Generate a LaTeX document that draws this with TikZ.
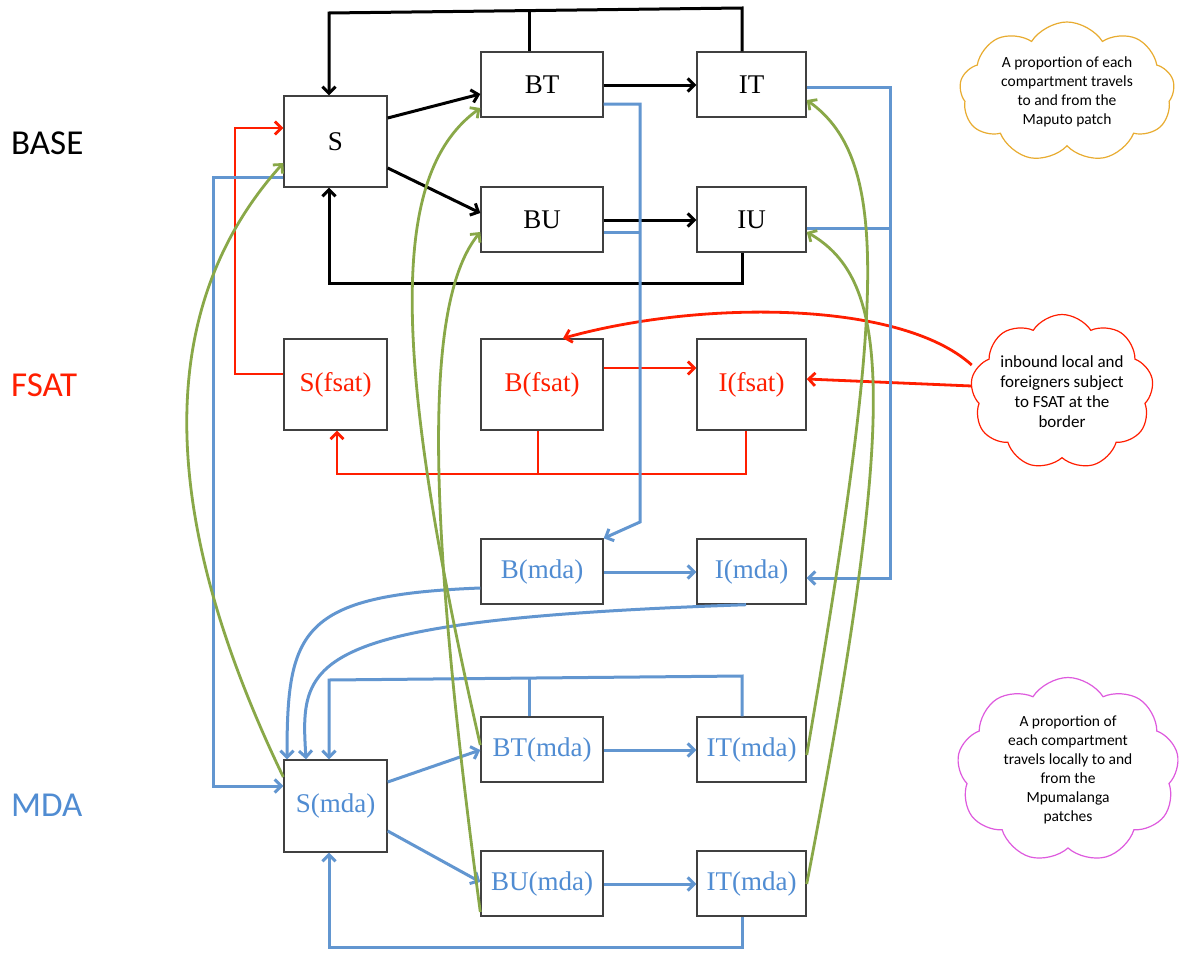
\documentclass[tikz,border=0pt]{standalone}
\usepackage{fontspec}
\setmainfont{Liberation Serif}
\newfontfamily\calfont{Carlito}
\usetikzlibrary{arrows.meta,shapes.symbols}
\definecolor{boxgray}{RGB}{64,64,64}
\definecolor{myred}{RGB}{255,30,0}
\definecolor{myblue}{RGB}{98,150,208}
\definecolor{mdablue}{RGB}{80,140,210}
\definecolor{mygreen}{RGB}{137,168,72}
\definecolor{orangec}{RGB}{232,172,48}
\definecolor{magc}{RGB}{222,90,222}
\tikzset{
  bx/.style={draw=boxgray,line width=1.4pt,inner sep=0pt,font=\fontsize{27}{30}\selectfont},
  sq/.style={bx,minimum width=103pt,minimum height=91pt},
  wd/.style={bx,minimum width=122pt,minimum height=65pt},
  nr/.style={bx,minimum width=109pt,minimum height=65pt},
  tip/.style={-{Straight Barb[length=6.5pt,width=13pt]}},
  blk/.style={black,line width=3pt,tip},
  blkline/.style={black,line width=3pt},
  rd/.style={myred,line width=2.8pt,tip},
  rdline/.style={myred,line width=2.8pt},
  bl/.style={myblue,line width=3pt,tip},
  blline/.style={myblue,line width=3pt},
  gr/.style={mygreen,line width=2.8pt,tip},
  cl/.style={cloud,cloud puffs=9,cloud puff arc=115,cloud ignores aspect,line width=1.2pt,fill=white,align=center,font=\calfont\fontsize{15.5}{19}\selectfont,inner sep=0pt},
  lab/.style={anchor=west,font=\calfont\fontsize{35}{40}\selectfont,inner sep=0pt}
}
\begin{document}
\begin{tikzpicture}[x=1pt,y=-1pt]
\useasboundingbox[fill=white] (0,0) rectangle (1180,953);
% labels
\node[lab] (lbase) at (11,143) {BASE};
\node[lab,text=myred] (lfsat) at (11,385) {FSAT};
\node[lab,text=mdablue] (lmda) at (11,805) {MDA};
% boxes
\node[sq] (S) at (335.5,141.5) {S};
\node[wd] (BT) at (542,84.5) {BT};
\node[nr] (IT) at (751.5,84.5) {IT};
\node[wd] (BU) at (542,219.5) {BU};
\node[nr] (IU) at (751.5,219.5) {IU};
\node[sq,text=myred] (Sf) at (335.5,384.5) {S(fsat)};
\node[bx,minimum width=122pt,minimum height=91pt,text=myred] (Bf) at (542,384.5) {B(fsat)};
\node[bx,minimum width=109pt,minimum height=91pt,text=myred] (If) at (751.5,384.5) {I(fsat)};
\node[wd,text=mdablue] (Bm) at (542,571.5) {B(mda)};
\node[nr,text=mdablue] (Im) at (751.5,571.5) {I(mda)};
\node[wd,text=mdablue] (BTm) at (542,749.5) {BT(mda)};
\node[nr,text=mdablue] (ITm) at (751.5,749.5) {IT(mda)};
\node[sq,minimum height=92pt,text=mdablue] (Sm) at (335.5,806) {S(mda)};
\node[wd,text=mdablue] (BUm) at (542,883.5) {BU(mda)};
\node[nr,text=mdablue] (IUm) at (751.5,883.5) {IT(mda)};
% clouds
\node[cl,draw=orangec,minimum width=215pt,minimum height=140pt] (c1) at (1067,92)
  {A proportion of each\\compartment travels\\to and from the\\Maputo patch};
\node[cl,draw=myred,minimum width=160pt,minimum height=155pt,font=\calfont\fontsize{17}{20}\selectfont] (c2) at (1062,392)
  {inbound local and\\foreigners subject\\to FSAT at the\\border};
\node[cl,draw=magc,minimum width=222pt,minimum height=185pt] (c3) at (1068,770)
  {A proportion of\\each compartment\\travels locally to and\\from the\\Mpumalanga\\patches};
% black
\draw[blk] (S.east |- 0,118) -- (BT.west |- 0,94);
\draw[blk] (S.east |- 0,168) -- (BU.west |- 0,213);
\draw[blk] (BT.east |- 0,85) -- (IT.west |- 0,85);
\draw[blk] (BU.east |- 0,220) -- (IU.west |- 0,220);
\draw[blk] (IT.north -| 742,0) -- (742,8) -- (329,13) -- (S.north -| 329,0);
\draw[blkline] (BT.north -| 529,0) -- (529,10.5);
\draw[blk] (IU.south -| 742,0) -- (742,283) -- (329,283) -- (S.south -| 329,0);
% red
\draw[rd] (Sf.west |- 0,374) -- (235,374) -- (235,128) -- (S.west |- 0,128);
\draw[rd] (Bf.east |- 0,368) -- (If.west |- 0,368);
\draw[rdline] (Bf.south -| 538,0) -- (538,474);
\draw[rd] (If.south -| 746,0) -- (746,474) -- (337,474) -- (Sf.south -| 337,0);
\draw[rd] (c2.west |- 0,365) .. controls (900,300) and (700,300) .. (Bf.north -| 563,0);
\draw[rd] (c2.west |- 0,386) -- (If.east |- 0,379);
% blue
\draw[bl] (S.west |- 0,177) -- (213,177) -- (213,786) -- (Sm.west |- 0,786);
\draw[bl] (BT.east |- 0,104) -- (640,104) -- (640,522) -- (Bm.north east);
\draw[blline] (BU.east |- 0,232) -- (640,232);
\draw[bl] (IT.east |- 0,87) -- (890,87) -- (890,578) -- (Im.east |- 0,578);
\draw[blline] (IU.east |- 0,228) -- (890,228);
\draw[bl] (Bm.east |- 0,572) -- (Im.west |- 0,572);
\draw[bl] (Bm.west |- 0,588) .. controls (300,595) and (287,630) .. (Sm.north -| 287,0);
\draw[bl] (Im.south -| 746,0) .. controls (300,620) and (300,660) .. (Sm.north -| 306,0);
\draw[blline] (BTm.north -| 529,0) -- (529,678);
\draw[bl] (ITm.north -| 742,0) -- (742,676) -- (329,680) -- (Sm.north -| 329,0);
\draw[bl] (IUm.south -| 742,0) -- (742,947) -- (329,947) -- (Sm.south -| 329,0);
\draw[bl] (Sm.east |- 0,782) -- (BTm.west |- 0,750);
\draw[bl] (Sm.east |- 0,831) -- (BUm.west |- 0,882);
\draw[bl] (BTm.east |- 0,750) -- (ITm.west |- 0,750);
\draw[bl] (BUm.east |- 0,884) -- (IUm.west |- 0,884);
% green
\draw[gr] (Sm.west |- 0,777) .. controls (150,500) and (160,300) .. (S.west |- 0,163);
\draw[gr] (BTm.west |- 0,745) .. controls (385,330) and (395,170) .. (BT.west |- 0,108);
\draw[gr] (BUm.west |- 0,912) .. controls (425,500) and (425,300) .. (BU.west |- 0,232);
\draw[gr] (ITm.east |- 0,755) .. controls (885,300) and (890,160) .. (IT.east |- 0,100);
\draw[gr] (IUm.east |- 0,884) .. controls (900,400) and (890,280) .. (IU.east |- 0,232);
\end{tikzpicture}
\end{document}
